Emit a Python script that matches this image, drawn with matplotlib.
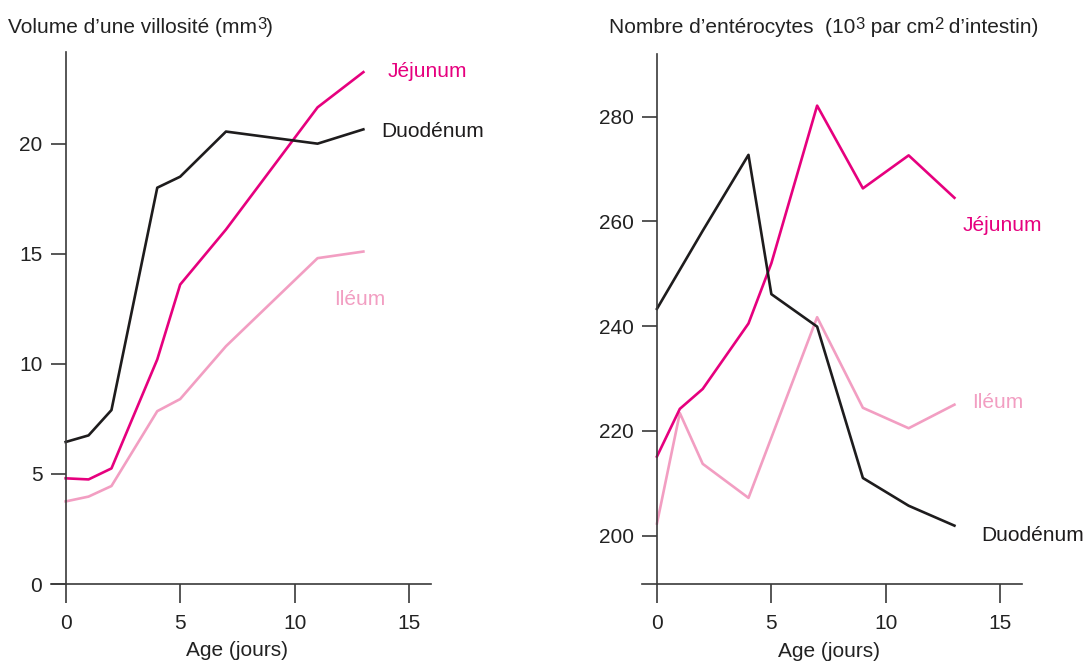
import matplotlib
matplotlib.use("Agg")
import matplotlib.pyplot as plt

plt.rcParams['font.family'] = ['Liberation Sans', 'DejaVu Sans']

# ---- data: left panel (volume of a villus, mm3) ----
age_vol = [0, 1, 2, 4, 5, 7, 11, 13]
vol_duodenum = [6.45, 6.75, 7.9, 18.0, 18.5, 20.55, 20.0, 20.65]
vol_jejunum = [4.8, 4.75, 5.25, 10.2, 13.6, 16.1, 21.65, 23.25]
vol_ileum = [3.75, 3.97, 4.45, 7.85, 8.4, 10.8, 14.8, 15.1]

# ---- data: right panel (enterocytes, 10^3 per cm2) ----
age_ent = [0, 2, 4, 5, 7, 9, 11, 13]
ent_duodenum = [243.3, 258.2, 272.7, 246.1, 239.9, 211.0, 205.7, 201.9]
age_ent_j = [0, 1, 2, 4, 5, 7, 9, 11, 13]
ent_jejunum = [215.1, 224.2, 228.0, 240.5, 252.0, 282.1, 266.3, 272.6, 264.5]
age_ent_i = [0, 1, 2, 4, 7, 9, 11, 13]
ent_ileum = [202.3, 223.4, 213.7, 207.2, 241.7, 224.4, 220.5, 225.0]

xticks = [0, 5, 10, 15]
yticks_vol = [0, 5, 10, 15, 20]
yticks_ent = [200, 220, 240, 260, 280]

title_left = [('Volume d’une villosité (mm', False), ('3', True), (')', False)]
title_right = [('Nombre d’entérocytes  (10', False), ('3', True), (' par cm', False),
               ('2', True), (' d’intestin)', False)]

C_BLACK = '#1e1c1d'
C_MAG = '#e6007e'
C_PINK = '#f29ec2'
C_AX = '#3a3a3a'
C_TXT = '#222222'
FS = 15
LW = 1.9
W, H = 1089, 665

fig = plt.figure(figsize=(10.89, 6.65), dpi=100)
axL = fig.add_axes([51 / W, 81 / H, 379.7 / W, 531.7 / H])
axR = fig.add_axes([642.3 / W, 80.7 / H, 379.4 / W, 530 / H])


def style(ax, ylim, yticks):
    ax.set_xlim(-0.64, 15.94)
    ax.set_ylim(*ylim)
    for s in ['top', 'right']:
        ax.spines[s].set_visible(False)
    ax.spines['left'].set_position(('data', 0))
    for s in ['left', 'bottom']:
        ax.spines[s].set_color(C_AX)
        ax.spines[s].set_linewidth(1.2)
    ax.set_xticks(xticks)
    ax.set_yticks(yticks)
    ax.tick_params(axis='x', direction='out', length=13.5, width=1.2, color=C_AX,
                   pad=8, labelsize=FS, labelcolor=C_TXT)
    ax.tick_params(axis='y', direction='out', length=10.8, width=1.2, color=C_AX,
                   pad=6, labelsize=FS, labelcolor=C_TXT)
    ax.patch.set_visible(False)
    ax.text(0.491, -0.126, 'Age (jours)', transform=ax.transAxes, ha='center',
            va='center', fontsize=FS, color=C_TXT)


style(axL, (0, 24.15), yticks_vol)
style(axR, (190.7, 291.9), yticks_ent)

axL.plot(age_vol, vol_ileum, color=C_PINK, lw=LW, clip_on=False)
axL.plot(age_vol, vol_jejunum, color=C_MAG, lw=LW, clip_on=False)
axL.plot(age_vol, vol_duodenum, color=C_BLACK, lw=LW, clip_on=False)

axR.plot(age_ent_i, ent_ileum, color=C_PINK, lw=LW, clip_on=False)
axR.plot(age_ent_j, ent_jejunum, color=C_MAG, lw=LW, clip_on=False)
axR.plot(age_ent, ent_duodenum, color=C_BLACK, lw=LW, clip_on=False)

axL.text(14.08, 23.3, 'Jéjunum', color=C_MAG, fontsize=FS, va='center', clip_on=False)
axL.text(13.77, 20.55, 'Duodénum', color=C_BLACK, fontsize=FS, va='center', clip_on=False)
axL.text(11.72, 12.9, 'Iléum', color=C_PINK, fontsize=FS, va='center', clip_on=False)

axR.text(13.35, 259.3, 'Jéjunum', color=C_MAG, fontsize=FS, va='center', clip_on=False)
axR.text(13.78, 225.4, 'Iléum', color=C_PINK, fontsize=FS, va='center', clip_on=False)
axR.text(14.18, 200.1, 'Duodénum', color=C_BLACK, fontsize=FS, va='center', clip_on=False)

renderer = fig.canvas.get_renderer()


def rich_title(x_px, base_px, pieces, raise_px=4.0, sup_scale=0.8):
    x = x_px
    for s, sup in pieces:
        fs = FS * sup_scale if sup else FS
        y = H - base_px + (raise_px if sup else 0)
        t = fig.text(x / W, y / H, s, fontsize=fs, color=C_TXT, va='baseline', ha='left')
        bb = t.get_window_extent(renderer)
        x = bb.x1


rich_title(8, 33, title_left)
rich_title(609, 33, title_right)

fig.savefig('out.png', dpi=100)
